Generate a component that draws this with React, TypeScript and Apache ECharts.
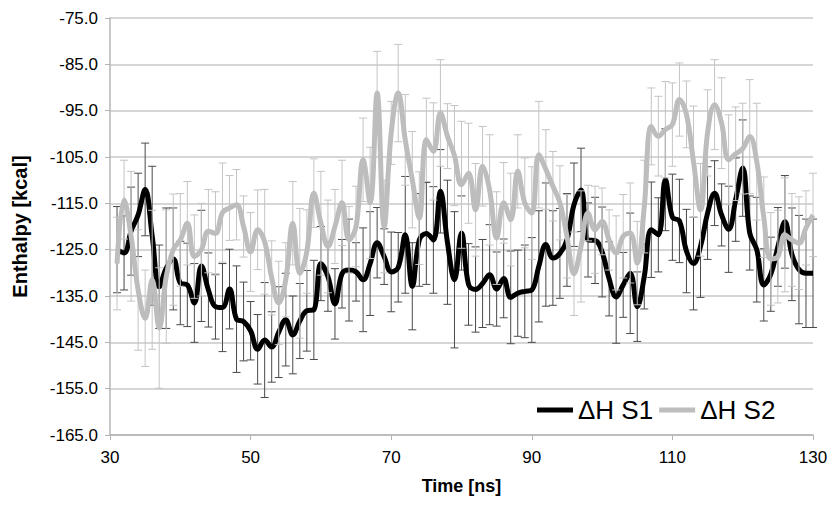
import React, { useEffect, useRef } from "react";
import * as echarts from "echarts";

const timeNs = [
  31, 32, 33, 34, 35, 36, 37, 38, 39, 40, 41, 42, 43, 44, 45, 46, 47, 48, 49, 50,
  51, 52, 53, 54, 55, 56, 57, 58, 59, 60, 61, 62, 63, 64, 65, 66, 67, 68, 69, 70,
  71, 72, 73, 74, 75, 76, 77, 78, 79, 80, 81, 82, 83, 84, 85, 86, 87, 88, 89, 90,
  91, 92, 93, 94, 95, 96, 97, 98, 99, 100, 101, 102, 103, 104, 105, 106, 107, 108, 109, 110,
  111, 112, 113, 114, 115, 116, 117, 118, 119, 120, 121, 122, 123, 124, 125, 126, 127, 128, 129, 130,
];

const s1Values = [
  -125.0, -125.7, -121.0, -117.5, -112.0, -122.0, -133.0, -129.0, -127.0, -132.2,
  -132.6, -136.5, -128.5, -133.7, -137.3, -137.5, -133.5, -140.0, -140.5, -142.5,
  -146.5, -144.5, -146.0, -142.8, -140.1, -143.4, -140.4, -138.2, -138.0, -128.0,
  -130.8, -136.7, -130.2, -129.4, -129.8, -131.5, -128.0, -123.5, -126.5, -129.8,
  -128.8, -121.8, -132.9, -122.9, -121.5, -122.9, -112.4, -123.4, -131.5, -121.4,
  -132.5, -133.6, -132.3, -130.4, -133.5, -131.2, -135.3, -134.4, -134.0, -133.7,
  -128.6, -123.9, -126.8, -125.8, -122.9, -115.3, -112.1, -122.9, -123.0, -125.5,
  -131.3, -135.2, -132.6, -130.1, -137.3, -130.8, -120.7, -121.8, -109.9, -118.0,
  -118.8, -125.3, -128.0, -124.3, -117.1, -112.8, -117.5, -120.6, -114.2, -107.4,
  -121.4, -125.0, -132.6, -130.3, -124.4, -119.0, -126.0, -129.3, -130.1, -130.1,
];

const s1Errors = [
  9.3, 8, 9.5, 9, 10, 15, 9, 13, 11, 9,
  9, 8.5, 12, 8, 7, 9.5, 8.6, 11.5, 8.5, 6.3,
  7.5, 12.4, 7.6, 9.8, 10, 8.4, 8.1, 8.7, 10.7, 8,
  7.5, 7.6, 7.4, 11, 6.3, 11.2, 11.2, 7.6, 6, 8.6,
  7.5, 12.6, 9.4, 10, 11, 11.5, 9, 13.4, 14.7, 8,
  8.8, 9.2, 9.5, 10.8, 8, 8.5, 10, 9.3, 10, 11.3,
  12, 13.3, 10.2, 9.7, 10, 9, 9, 8, 9.3, 9.7,
  8, 10, 7, 13, 7.5, 7, 10.3, 8, 11, 9.3,
  9, 9, 10, 11, 10, 7, 6.7, 9.3, 9, 10.4,
  8, 11.3, 7.8, 8, 8.5, 10, 10, 11.7, 11.7, 11.7,
];

const s2Values = [
  -128.0, -114.2, -122.1, -133.7, -139.8, -131.5, -141.9, -130.8, -125.0, -122.9,
  -119.3, -126.5, -125.0, -121.0, -121.5, -117.0, -116.0, -115.3, -120.0, -125.5,
  -120.7, -123.3, -131.1, -136.5, -131.5, -119.3, -130.1, -125.4, -112.8, -119.3,
  -124.3, -120.0, -114.9, -122.9, -120.0, -105.6, -114.9, -91.2, -120.0, -99.8,
  -91.2, -101.3, -109.9, -118.2, -101.3, -103.8, -95.5, -100.5, -104.7, -111.0,
  -108.5, -116.4, -107.0, -112.1, -122.5, -114.9, -118.5, -108.1, -114.9, -117.1,
  -104.5, -107.7, -111.3, -114.9, -122.1, -130.2, -124.3, -117.1, -120.7, -118.9,
  -122.9, -125.7, -122.1, -121.4, -127.9, -115.7, -98.4, -100.5, -99.1, -98.0,
  -92.6, -95.8, -106.0, -116.4, -99.8, -93.7, -97.7, -105.6, -104.3, -103.2,
  -100.6, -106.0, -118.0, -127.0, -126.5, -121.8, -122.9, -123.6, -120.3, -117.5,
];

const s2Errors = [
  10, 8.5, 14, 13, 10.4, 15, 13, 14.4, 12, 10,
  9, 9, 10, 9, 9, 10.7, 7, 7.6, 6.6, 8.5,
  8.6, 11.3, 8, 9, 8, 9, 14, 9, 7.4, 11.2,
  10, 8, 9.2, 7.2, 8.7, 9, 12, 9, 10, 6.8,
  10.5, 9.8, 10.4, 10, 9, 10.5, 11.5, 7, 10.8, 13.7,
  10.8, 10, 8.6, 11.9, 10, 8.7, 10, 7.9, 9.7, 10,
  11.5, 8.6, 7.5, 8, 9, 9, 12, 6, 9.4, 7.2,
  6.5, 8, 9, 10.8, 9, 10, 8.3, 8.6, 10.4, 9,
  7.9, 7.2, 12, 10, 9.3, 9.7, 9.8, 9.7, 10.1, 9.8,
  12.3, 12.6, 8.7, 10, 10, 12.3, 10, 10, 8, 9,
];

const xTicks = { min: 30, max: 130, step: 20 };
const yTicks = { min: -165, max: -75, step: 10 };
const seriesNames = ["ΔH S1", "ΔH S2"];

const FONT = "'Liberation Sans', Arial, Helvetica, sans-serif";

const makeErrorRender = (color: string) => (params: any, api: any) => {
  const x = api.value(0);
  const lo = api.coord([x, api.value(1)]);
  const hi = api.coord([x, api.value(2)]);
  const w = 4;
  const style = { stroke: color, lineWidth: 1 };
  return {
    type: "group",
    children: [
      { type: "line", shape: { x1: lo[0], y1: lo[1], x2: hi[0], y2: hi[1] }, style },
      { type: "line", shape: { x1: lo[0] - w, y1: lo[1], x2: lo[0] + w, y2: lo[1] }, style },
      { type: "line", shape: { x1: hi[0] - w, y1: hi[1], x2: hi[0] + w, y2: hi[1] }, style },
    ],
  };
};

export default function App() {
  const ref = useRef<HTMLDivElement>(null);

  useEffect(() => {
    if (!ref.current) return;
    const chart = echarts.init(ref.current, null, { renderer: "svg" });

    const line1 = timeNs.map((t, i) => [t, s1Values[i]]);
    const line2 = timeNs.map((t, i) => [t, s2Values[i]]);
    const err1 = timeNs.map((t, i) => [t, s1Values[i] - s1Errors[i], s1Values[i] + s1Errors[i]]);
    const err2 = timeNs.map((t, i) => [t, s2Values[i] - s2Errors[i], s2Values[i] + s2Errors[i]]);

    chart.setOption({
      animation: false,
      backgroundColor: "#ffffff",
      textStyle: { fontFamily: FONT },
      grid: { left: 110, right: 24, top: 18, bottom: 76, containLabel: false },
      legend: {
        data: seriesNames.map((n) => ({ name: n, icon: "rect" })),
        left: 537,
        top: 397,
        padding: 0,
        itemWidth: 36,
        itemHeight: 5,
        itemGap: 6,
        selectedMode: false,
        textStyle: { fontSize: 26, color: "#000", fontFamily: FONT },
      },
      xAxis: {
        type: "value",
        min: xTicks.min,
        max: xTicks.max,
        interval: xTicks.step,
        name: "Time [ns]",
        nameLocation: "middle",
        nameGap: 42,
        nameTextStyle: { fontSize: 18, fontWeight: "bold", color: "#000", fontFamily: FONT },
        axisLine: { show: true, lineStyle: { color: "#b4b4b4", width: 1.5 } },
        axisTick: { show: true, length: 5, lineStyle: { color: "#b4b4b4" } },
        axisLabel: { fontSize: 17, color: "#000", margin: 14, fontFamily: FONT },
        splitLine: { show: false },
      },
      yAxis: {
        type: "value",
        min: yTicks.min,
        max: yTicks.max,
        interval: yTicks.step,
        name: "Enthalpy [kcal]",
        nameLocation: "middle",
        nameRotate: 90,
        nameGap: 80,
        nameTextStyle: { fontSize: 20, fontWeight: "bold", color: "#000", fontFamily: FONT },
        axisLine: { show: true, lineStyle: { color: "#b4b4b4", width: 1.5 } },
        axisTick: { show: true, length: 5, lineStyle: { color: "#b4b4b4" } },
        axisLabel: {
          fontSize: 17,
          color: "#000",
          margin: 12,
          fontFamily: FONT,
          formatter: (v: number) => v.toFixed(1),
        },
        splitLine: { show: true, lineStyle: { color: "#c8c8c8", width: 1.5 } },
      },
      series: [
        {
          name: "err1",
          type: "custom",
          renderItem: makeErrorRender("#4a4a4a"),
          encode: { x: 0, y: [1, 2] },
          data: err1,
          z: 1,
        },
        {
          name: seriesNames[0],
          type: "line",
          data: line1,
          smooth: 0.4,
          symbol: "none",
          showSymbol: false,
          lineStyle: { color: "#000000", width: 5 },
          itemStyle: { color: "#000000" },
          z: 2,
        },
        {
          name: "err2",
          type: "custom",
          renderItem: makeErrorRender("#c4c4c4"),
          encode: { x: 0, y: [1, 2] },
          data: err2,
          z: 3,
        },
        {
          name: seriesNames[1],
          type: "line",
          data: line2,
          smooth: 0.4,
          symbol: "none",
          showSymbol: false,
          lineStyle: { color: "#bdbdbd", width: 5 },
          itemStyle: { color: "#bdbdbd" },
          z: 4,
        },
      ],
    });

    return () => chart.dispose();
  }, []);

  return (
    <div
      ref={ref}
      style={{ position: "fixed", left: 0, top: 0, width: 837, height: 511, background: "#fff" }}
    />
  );
}
